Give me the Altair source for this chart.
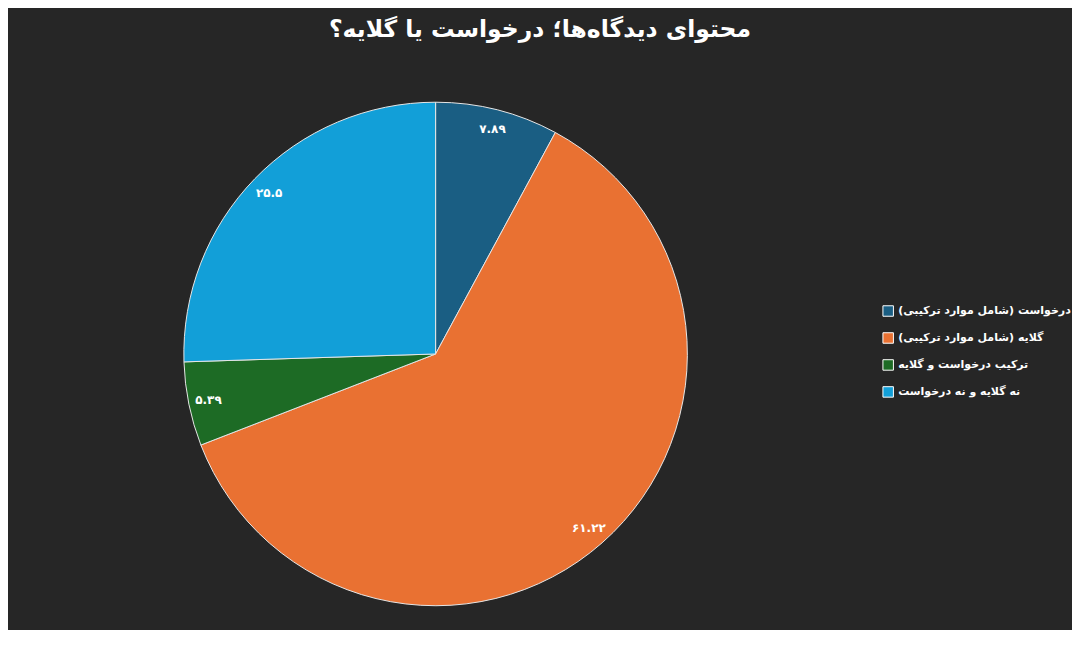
import altair as alt
import pandas as pd

categories = [
    "درخواست (شامل موارد ترکیبی)",
    "گلایه (شامل موارد ترکیبی)",
    "ترکیب درخواست و گلایه",
    "نه گلایه و نه درخواست",
]
values = [7.89, 61.22, 5.39, 25.5]
colors = ["#1a5e83", "#e97132", "#1d6b25", "#129fd8"]

fa_digits = str.maketrans("0123456789", "۰۱۲۳۴۵۶۷۸۹")
labels = [str(v).translate(fa_digits) for v in values]

df = pd.DataFrame({
    "category": categories,
    "value": values,
    "order": list(range(len(values))),
    "label": labels,
})

FONT = "DejaVu Sans"

base = alt.Chart(df).encode(
    theta=alt.Theta("value:Q", stack=True),
    order=alt.Order("order:Q"),
    color=alt.Color(
        "category:N",
        scale=alt.Scale(domain=categories, range=colors),
        sort=None,
        legend=alt.Legend(
            title=None,
            orient="none",
            legendX=875,
            legendY=211,
            symbolType="square",
            symbolSize=110,
            symbolStrokeColor="#ffffff",
            symbolStrokeWidth=1,
            labelColor="#ffffff",
            labelFontSize=11,
            labelFontWeight="bold",
            labelFont=FONT,
            rowPadding=11,
            labelLimit=400,
        ),
    ),
)

arcs = base.mark_arc(outerRadius=252, stroke="#e6e6e6", strokeWidth=1)
texts = base.mark_text(
    radius=232, fontSize=12, fontWeight="bold", font=FONT
).encode(text="label:N", color=alt.value("#ffffff"))

chart = (
    alt.layer(arcs, texts)
    .properties(
        width=856,
        height=520,
        title=alt.TitleParams(
            "محتوای دیدگاه‌ها؛ درخواست یا گلایه؟",
            fontSize=23.5,
            fontWeight="bold",
            color="#ffffff",
            font=FONT,
            anchor="middle",
            frame="bounds",
            offset=53,
        ),
        padding={"left": 0, "top": 9, "right": 0, "bottom": 16},
    )
    .configure(background="#262626")
    .configure_view(stroke=None)
)

chart.save("out.html", embed_options={"renderer": "svg", "actions": False})
